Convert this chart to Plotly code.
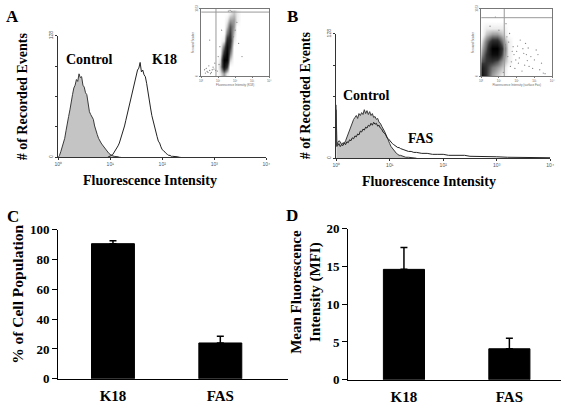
import numpy as np
import plotly.graph_objects as go

W, H = 567, 408
SERIF = "Liberation Serif"

# ---------------- Panel A histogram (log10 fluorescence channel -> events)
A_CTRL_START, A_CTRL_STEP = 0.0, 0.025
A_CTRL_CNT = [0, 2, 6, 10, 16, 20, 28, 34, 43, 50, 60, 66, 73, 76, 82, 80, 88, 84, 85, 76,
              74, 68, 66, 57, 48, 45, 42, 40, 33, 27, 24, 20, 17, 15, 13, 11, 9, 7, 5, 4,
              3, 2, 1.5, 1, 1, 0.5, 0.5, 0, 0]
A_K18_START, A_K18_STEP = 0.95, 0.025
A_K18_CNT = [0, 0.5, 1, 2, 3, 5, 7, 10, 12, 15, 19, 23, 27, 33, 39, 45, 52, 58, 64, 70,
             76, 82, 86, 92, 94, 100, 90, 92, 87, 85, 78, 68, 60, 52, 44, 38, 31, 26, 22, 17,
             15, 11, 8, 7, 5, 4, 3, 2, 2, 1, 1, 1, 0.5, 0.5, 0.5, 0, 0]

# ---------------- Panel B histogram
B_CTRL_LOG = [0.0, 0.01, 0.025, 0.05, 0.075, 0.1, 0.125, 0.15, 0.175, 0.2, 0.225, 0.25, 0.275,
              0.3, 0.325, 0.35, 0.375, 0.4, 0.425, 0.45, 0.475, 0.5, 0.525, 0.55, 0.575, 0.6,
              0.625, 0.65, 0.675, 0.7, 0.725, 0.75, 0.775, 0.8, 0.825, 0.85, 0.875, 0.9, 0.925,
              0.95, 0.975, 1.0, 1.025, 1.05, 1.075, 1.1, 1.125, 1.15, 1.175, 1.2,
              1.25, 1.3, 1.35, 1.4, 1.5]
B_CTRL_CNT = [55, 13, 16, 18, 17, 14, 16, 15, 18, 22, 26, 29, 33, 36, 40, 42, 44, 41, 46, 44,
              47, 45, 50, 46, 49, 45, 48, 44, 46, 42, 43, 40, 41, 37, 36, 33, 31, 28, 25, 21,
              18, 15, 12, 10, 8, 6, 5, 4, 3, 3, 2, 1, 1, 0.5, 0]
B_FAS_LOG = [0.0, 0.01, 0.025, 0.05, 0.075, 0.1, 0.125, 0.15, 0.175, 0.2, 0.225, 0.25, 0.275,
             0.3, 0.325, 0.35, 0.375, 0.4, 0.425, 0.45, 0.475, 0.5, 0.525, 0.55, 0.575, 0.6,
             0.625, 0.65, 0.675, 0.7, 0.725, 0.75, 0.775, 0.8, 0.825, 0.85, 0.875, 0.9, 0.925,
             0.95, 0.975, 1.0, 1.025, 1.05, 1.075, 1.1, 1.125, 1.15, 1.175, 1.2,
             1.25, 1.3, 1.35, 1.4, 1.45, 1.5, 1.6, 1.7, 1.8, 1.9, 2.0, 2.1, 2.2, 2.3, 2.4,
             2.5, 2.6, 2.7, 2.8, 2.9, 3.0, 3.2, 3.4, 3.6, 3.8, 4.0]
B_FAS_CNT = [50, 12, 13, 15, 12, 14, 13, 16, 14, 17, 16, 19, 18, 21, 20, 23, 22, 25, 24, 28,
             27, 30, 29, 32, 31, 34, 33, 36, 34, 37, 35, 36, 33, 34, 31, 30, 27, 26, 24, 21,
             20, 18, 16, 15, 14, 13, 12, 11, 11, 10,
             9, 8, 7, 7, 6, 6, 5, 5, 4, 4, 4, 3, 3, 3, 3, 2, 2, 2, 2, 2, 1.5, 1, 1, 0.5, 0.5, 0.5]

HIST_XTICKS = [1, 10, 100, 1000, 10000]
HIST_XTEXT = ["10⁰", "10¹", "10²", "10³", "10⁴"]
HIST_YTICKS = [0, 32, 64, 96, 128]
HIST_YTEXT = ["0", "", "", "", "128"]

# ---------------- Insets (dot-plot density, log10 fluorescence vs forward scatter channel)
INSET_A_XLOG = [0.9, 1.1, 1.3, 1.5, 1.7, 1.9, 2.1, 2.3]
INSET_A_YCH = [50, 150, 250, 350, 450, 550, 650, 750, 850, 950]
INSET_A_DENS = [
    [0, 1, 3, 1, 0, 0, 0, 0],
    [0, 2, 9, 6, 0, 0, 0, 0],
    [0, 1, 10, 10, 2, 0, 0, 0],
    [0, 0, 7, 10, 4, 0, 0, 0],
    [0, 0, 4, 9, 6, 0, 0, 0],
    [0, 0, 1, 7, 7, 1, 0, 0],
    [0, 0, 0, 4, 6, 2, 0, 0],
    [0, 0, 0, 2, 5, 3, 0, 0],
    [0, 0, 0, 1, 3, 3, 1, 0],
    [0, 0, 0, 0, 1, 2, 1, 0],
]
INSET_A_DOTS_X = [0.3, 0.5, 0.6, 0.7, 0.4, 0.2, 0.8, 1.0, 0.95, 1.1, 1.9, 2.0, 2.2, 1.8, 1.6,
                  2.4, 0.5, 1.2, 0.65, 0.35, 0.45, 0.75, 0.55, 1.05, 2.1, 1.7, 0.25, 0.85]
INSET_A_DOTS_Y = [120, 90, 60, 140, 60, 100, 200, 300, 80, 450, 600, 700, 500, 985, 990,
                  300, 550, 700, 100, 75, 160, 110, 40, 180, 820, 1000, 50, 90]
INSET_A_GATE = (0.87, 975)

INSET_B_XLOG = [0.0, 0.3, 0.6, 0.9, 1.2, 1.5, 1.8]
INSET_B_YCH = [30, 130, 230, 330, 430, 530, 630, 730, 830]
INSET_B_DENS = [
    [9, 6, 3, 2, 1, 0, 0],
    [8, 6, 4, 3, 2, 0, 0],
    [5, 6, 6, 5, 3, 1, 0],
    [3, 6, 9, 9, 5, 1, 0],
    [2, 5, 10, 10, 6, 1, 0],
    [1, 4, 7, 7, 4, 1, 0],
    [0, 2, 3, 3, 2, 0, 0],
    [0, 1, 1, 1, 1, 0, 0],
    [0, 0, 0, 0, 0, 0, 0],
]
INSET_B_DOTS_X = [1.5, 1.8, 2.1, 2.4, 2.7, 3.0, 3.3, 2.2, 1.6, 1.9, 2.5, 3.1, 1.4, 0.8, 3.5,
                  2.8, 2.0, 1.7, 2.3, 3.4, 1.55, 1.65, 1.85, 2.05, 2.15, 2.35, 2.6, 2.9, 3.2,
                  1.45, 1.75, 1.95, 2.45, 2.65, 0.5, 1.0, 1.25, 2.55, 3.6, 1.35]
INSET_B_DOTS_Y = [300, 450, 200, 350, 150, 250, 100, 550, 650, 120, 500, 400, 800, 900, 50,
                  300, 380, 220, 80, 200, 520, 150, 330, 460, 280, 420, 240, 120, 330,
                  600, 380, 250, 170, 430, 760, 700, 60, 330, 40, 480]
INSET_B_GATE = (1.3, 890)
INSET_XTICKS = [0, 1, 2, 3, 4]
INSET_XTEXT = ["10⁰", "10¹", "10²", "10³", "10⁴"]

# ---------------- Bar panels
BAR_CATS = ["K18", "FAS"]
C_VALUES = [90.5, 24.0]
C_ERR_UP = [2.0, 4.5]
D_VALUES = [14.6, 4.1]
D_ERR_UP = [2.9, 1.4]


def logx(start, step, n):
    return [10 ** (start + step * i) for i in range(n)]


def px_x(a, b):
    return [a / W, b / W]


def px_y(top, bottom):
    return [1 - bottom / H, 1 - top / H]


fig = go.Figure()

# Panel A
fig.add_trace(go.Scatter(x=logx(A_CTRL_START, A_CTRL_STEP, len(A_CTRL_CNT)), y=A_CTRL_CNT,
                         mode="lines", fill="tozeroy", fillcolor="#c4c4c4",
                         line=dict(color="#3a3a3a", width=1), xaxis="x", yaxis="y"))
fig.add_trace(go.Scatter(x=logx(A_K18_START, A_K18_STEP, len(A_K18_CNT)), y=A_K18_CNT,
                         mode="lines", line=dict(color="#222", width=1), xaxis="x", yaxis="y"))
# Panel B
fig.add_trace(go.Scatter(x=[10 ** v for v in B_CTRL_LOG], y=B_CTRL_CNT, mode="lines",
                         fill="tozeroy", fillcolor="#c4c4c4",
                         line=dict(color="#3a3a3a", width=1), xaxis="x2", yaxis="y2"))
fig.add_trace(go.Scatter(x=[10 ** v for v in B_FAS_LOG], y=B_FAS_CNT, mode="lines",
                         line=dict(color="#222", width=1), xaxis="x2", yaxis="y2"))

# Bars C, D
fig.add_trace(go.Bar(x=BAR_CATS, y=C_VALUES, width=0.4, marker=dict(color="black", line=dict(color="black", width=1)),
                     error_y=dict(type="data", symmetric=False, array=C_ERR_UP, arrayminus=[0, 0],
                                  color="black", thickness=1.5, width=3.5),
                     xaxis="x3", yaxis="y3"))
fig.add_trace(go.Bar(x=BAR_CATS, y=D_VALUES, width=0.39, marker=dict(color="black", line=dict(color="black", width=1)),
                     error_y=dict(type="data", symmetric=False, array=D_ERR_UP, arrayminus=[0, 0],
                                  color="black", thickness=1.5, width=3.5),
                     xaxis="x4", yaxis="y4"))

# Insets
DOT_SCALE = [[0, "#ffffff"], [0.1, "#ececec"], [0.3, "#9a9a9a"], [0.6, "#333333"], [1, "#000000"]]
fig.add_trace(go.Heatmap(x=INSET_A_XLOG, y=INSET_A_YCH, z=INSET_A_DENS, zsmooth="best",
                         colorscale=DOT_SCALE, showscale=False, zmin=0, zmax=10,
                         xaxis="x5", yaxis="y5"))
fig.add_trace(go.Scatter(x=INSET_A_DOTS_X, y=INSET_A_DOTS_Y, mode="markers",
                         marker=dict(size=1.3, color="#888"), xaxis="x5", yaxis="y5"))
fig.add_trace(go.Scatter(x=[INSET_A_GATE[0]] * 2, y=[0, 1023], mode="lines",
                         line=dict(color="#999", width=1), xaxis="x5", yaxis="y5"))
fig.add_trace(go.Scatter(x=[0, 4], y=[INSET_A_GATE[1]] * 2, mode="lines",
                         line=dict(color="#999", width=1), xaxis="x5", yaxis="y5"))

fig.add_trace(go.Heatmap(x=INSET_B_XLOG, y=INSET_B_YCH, z=INSET_B_DENS, zsmooth="best",
                         colorscale=DOT_SCALE, showscale=False, zmin=0, zmax=10,
                         xaxis="x6", yaxis="y6"))
fig.add_trace(go.Scatter(x=INSET_B_DOTS_X, y=INSET_B_DOTS_Y, mode="markers",
                         marker=dict(size=1.3, color="#888"), xaxis="x6", yaxis="y6"))
fig.add_trace(go.Scatter(x=[INSET_B_GATE[0]] * 2, y=[0, 1023], mode="lines",
                         line=dict(color="#999", width=1), xaxis="x6", yaxis="y6"))
fig.add_trace(go.Scatter(x=[0, 4], y=[INSET_B_GATE[1]] * 2, mode="lines",
                         line=dict(color="#999", width=1), xaxis="x6", yaxis="y6"))

tiny = dict(family="Arial", size=5, color="#555")
hist_x = dict(type="log", range=[0, 4], showline=True, linecolor="#333", linewidth=1,
              ticks="outside", ticklen=2, tickcolor="#333", tickvals=HIST_XTICKS,
              ticktext=HIST_XTEXT, tickfont=tiny, showgrid=False, zeroline=False)
hist_y = dict(range=[0, 128], showline=True, linecolor="#333", linewidth=1, ticks="outside",
              ticklen=2, tickcolor="#333", tickvals=HIST_YTICKS, ticktext=HIST_YTEXT,
              tickfont=tiny, tickangle=-90, showgrid=False, zeroline=False)

bold_tick = dict(family=SERIF, size=13, color="black", weight="bold")
cat_tick = dict(family=SERIF, size=15, color="black", weight="bold")
bar_x = dict(type="category", showline=True, linecolor="black", linewidth=1, ticks="",
             tickfont=cat_tick, showgrid=False, zeroline=False, ticklabelstandoff=3)
bar_y = dict(showline=True, linecolor="black", linewidth=1, ticks="outside", ticklen=5,
             tickcolor="black", tickfont=bold_tick, showgrid=False, zeroline=False)

inset_tiny = dict(family="Arial", size=3, color="#666")
inset_x = dict(range=[0, 4], showline=True, mirror=True, linecolor="#777", linewidth=1,
               ticks="outside", ticklen=1, tickcolor="#777", tickvals=INSET_XTICKS,
               ticktext=INSET_XTEXT, tickfont=inset_tiny, showgrid=False, zeroline=False,
               title=dict(font=inset_tiny, standoff=0))
inset_y = dict(range=[0, 1023], showline=True, mirror=True, linecolor="#777", linewidth=1,
               ticks="outside", ticklen=1, tickcolor="#777", tickvals=[0, 1023],
               ticktext=["0", "1023"], tickangle=-90, tickfont=inset_tiny, showgrid=False,
               zeroline=False, title=dict(text="Forward Scatter", font=inset_tiny, standoff=0))

fig.update_layout(
    width=W, height=H, autosize=False, margin=dict(l=0, r=0, t=0, b=0),
    paper_bgcolor="white", plot_bgcolor="rgba(0,0,0,0)", showlegend=False,
    xaxis=dict(hist_x, domain=px_x(55, 266), anchor="y"),
    yaxis=dict(hist_y, domain=px_y(30, 156), anchor="x"),
    xaxis2=dict(hist_x, domain=px_x(337, 554), anchor="y2"),
    yaxis2=dict(hist_y, domain=px_y(28, 157), anchor="x2"),
    xaxis3=dict(bar_x, domain=px_x(55, 288), range=[-0.51, 1.63], anchor="y3"),
    yaxis3=dict(bar_y, domain=px_y(231, 386), range=[0, 100], tickvals=[0, 20, 40, 60, 80, 100], anchor="x3"),
    xaxis4=dict(bar_x, domain=px_x(349, 565), range=[-0.53, 1.49], anchor="y4"),
    yaxis4=dict(bar_y, domain=px_y(230, 387), range=[0, 20], tickvals=[0, 5, 10, 15, 20], anchor="x4"),
    xaxis5=dict(inset_x, domain=px_x(200, 269), anchor="y5",
                title=dict(text="Fluorescence Intensity (K18)", font=inset_tiny, standoff=0)),
    yaxis5=dict(inset_y, domain=px_y(2, 72), anchor="x5"),
    xaxis6=dict(inset_x, domain=px_x(484, 556), anchor="y6",
                title=dict(text="Fluorescence Intensity (surface Fas)", font=inset_tiny, standoff=0)),
    yaxis6=dict(inset_y, domain=px_y(2, 72), anchor="x6"),
)


def ann(text, x, y, size, angle=0):
    return dict(text=text, x=x / W, y=1 - y / H, xref="paper", yref="paper", showarrow=False,
                xanchor="center", yanchor="middle", textangle=angle,
                font=dict(family=SERIF, size=size, color="black", weight="bold"))


fig.update_layout(annotations=[
    ann("A", 9, 10, 17), ann("B", 293, 10, 17), ann("C", 9, 217, 17), ann("D", 292, 216, 17),
    ann("# of Recorded Events", 19, 93, 14, -90), ann("# of Recorded Events", 306, 92, 14, -90),
    ann("Fluorescence Intensity", 148, 180, 14), ann("Fluorescence Intensity", 431, 181, 14),
    ann("Control", 87, 54, 14), ann("K18", 163, 54, 14),
    ann("Control", 368, 92, 14), ann("FAS", 423, 137, 14),
    ann("% of Cell Population", 13, 298, 15.5, -90),
    ann("Mean Fluorescence<br>Intensity (MFI)", 306, 296, 15, -90),
])

fig.write_html("out.html", config={"displayModeBar": False},
               post_script="document.body.style.margin='0';document.body.style.overflow='hidden';")
